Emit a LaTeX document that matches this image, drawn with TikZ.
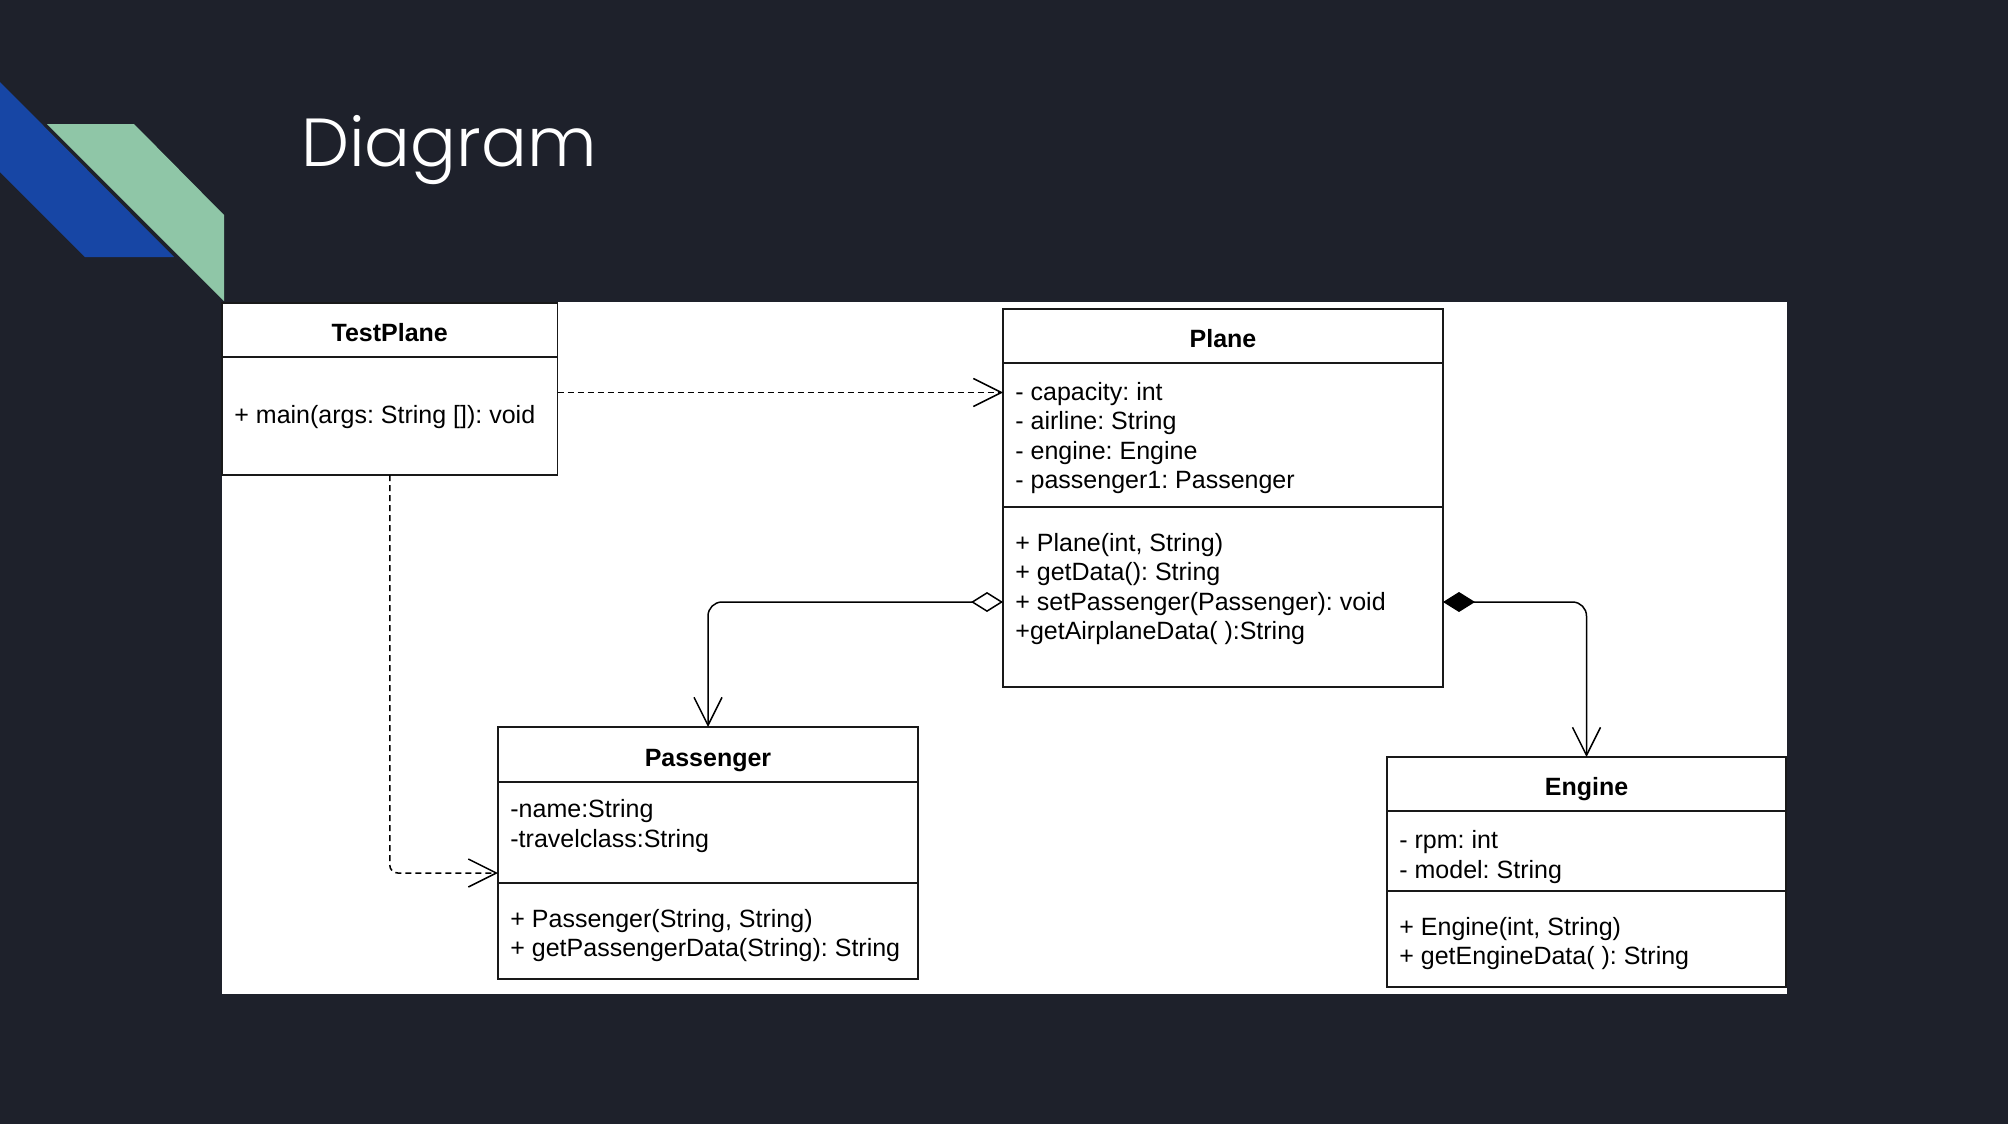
\documentclass[tikz,border=0pt]{standalone}
\usepackage{fontspec}
\setmainfont{Liberation Sans}
\newfontfamily\titlefont{Poppins Light}
\usetikzlibrary{arrows.meta}

\definecolor{slidebg}{RGB}{30,33,43}
\definecolor{stripeblue}{RGB}{23,70,165}
\definecolor{stripegreen}{RGB}{143,198,167}
\newcommand{\memberfont}{\fontsize{12.5pt}{14.65pt}\selectfont}
\frenchspacing

\tikzset{
  classbox/.style={draw=black!90, line width=0.8pt, fill=white, anchor=north west, inner sep=0pt, outer sep=0pt},
  classname/.style={font=\bfseries\memberfont, text height=11.5pt, text depth=0pt},
  members/.style={anchor=north west, align=left, inner xsep=6pt, inner ysep=0pt, font=\memberfont},
  link/.style={draw=black, line width=0.75pt},
  dep/.style={link, dash pattern=on 3pt off 2pt, rounded corners=4pt, -{Straight Barb[length=14pt,width=14pt]}},
  aggr/.style={link, rounded corners=7pt, {Diamond[open,length=16pt,width=10pt]}-{Straight Barb[length=14pt,width=14pt]}},
  compo/.style={link, rounded corners=7pt, {Diamond[length=16pt,width=10pt]}-{Straight Barb[length=14pt,width=14pt]}}
}

\begin{document}
\begin{tikzpicture}[x=0.5pt, y=-0.5pt]
  \fill[slidebg] (0,0) rectangle (2008,1124);
  \useasboundingbox (0,0) rectangle (2008,1124);

  % slide decoration
  \fill[stripeblue] (0,82) -- (174,257) -- (85,257) -- (0,172) -- cycle;
  \fill[stripegreen] (47,124) -- (134,124) -- (224,215) -- (224,301) -- cycle;
  \node[anchor=base west, inner sep=0pt, text=white, font=\titlefont\fontsize{34pt}{40pt}\selectfont] (title) at (301,166) {Diagram};

  % white panel
  \fill[white] (221.5,302) rectangle (1786.5,994);

  % TestPlane
  \node[classbox, classname, minimum width=167.75pt, minimum height=27pt] (testplane) at (222,303) {TestPlane};
  \node[classbox, minimum width=167.75pt, minimum height=59pt] (testplane-body) at (testplane.south west) {};
  \node[members, anchor=west] (testplane-txt) at ([yshift=-0.5pt]testplane-body.west) {+ main(args: String []): void};

  % Plane
  \node[classbox, classname, minimum width=220pt, minimum height=27pt] (plane) at (1003,309) {Plane};
  \node[classbox, minimum width=220pt, minimum height=72pt] (plane-attr) at (plane.south west) {};
  \node[classbox, minimum width=220pt, minimum height=90pt] (plane-meth) at (plane-attr.south west) {};
  \node[members] (plane-attr-txt) at ([yshift=-8.25pt]plane-attr.north west)
    {\strut- capacity: int\\- airline: String\\- engine: Engine\\- passenger1: Passenger};
  \node[members] (plane-meth-txt) at ([yshift=-11.75pt]plane-meth.north west)
    {\strut+ Plane(int, String)\\+ getData(): String\\+ setPassenger(Passenger): void\\+getAirplaneData( ):String};

  % Passenger
  \node[classbox, classname, minimum width=210pt, minimum height=27.5pt] (passenger) at (498,727) {Passenger};
  \node[classbox, minimum width=210pt, minimum height=50.5pt] (passenger-attr) at (passenger.south west) {};
  \node[classbox, minimum width=210pt, minimum height=48pt] (passenger-meth) at (passenger-attr.south west) {};
  \node[members] (passenger-attr-txt) at ([yshift=-7.5pt]passenger-attr.north west)
    {\strut-name:String\\-travelclass:String};
  \node[members] (passenger-meth-txt) at ([yshift=-11.6pt]passenger-meth.north west)
    {\strut+ Passenger(String, String)\\+ getPassengerData(String): String};

  % Engine
  \node[classbox, classname, minimum width=199.5pt, minimum height=27pt] (engine) at (1387,757) {Engine};
  \node[classbox, minimum width=199.5pt, minimum height=40pt] (engine-attr) at (engine.south west) {};
  \node[classbox, minimum width=199.5pt, minimum height=48pt] (engine-meth) at (engine-attr.south west) {};
  \node[members] (engine-attr-txt) at ([yshift=-8.5pt]engine-attr.north west)
    {\strut- rpm: int\\- model: String};
  \node[members] (engine-meth-txt) at ([yshift=-11.75pt]engine-meth.north west)
    {\strut+ Engine(int, String)\\+ getEngineData( ): String};

  % connectors
  \coordinate (tp-out) at ([yshift=-17.75pt]testplane-body.north east);
  \coordinate (ps-in) at ([yshift=5pt]passenger-attr.south west);
  \coordinate (agg) at ([yshift=-47.5pt]plane-meth.north west);
  \coordinate (comp) at ([yshift=-47.5pt]plane-meth.north east);

  \draw[dep] (tp-out) -- (tp-out -| plane-attr.west);
  \draw[dep] (testplane-body.south) |- (ps-in);
  \draw[aggr] (agg) -| (passenger.north);
  \draw[compo] (comp) -| (engine.north);
\end{tikzpicture}
\end{document}
